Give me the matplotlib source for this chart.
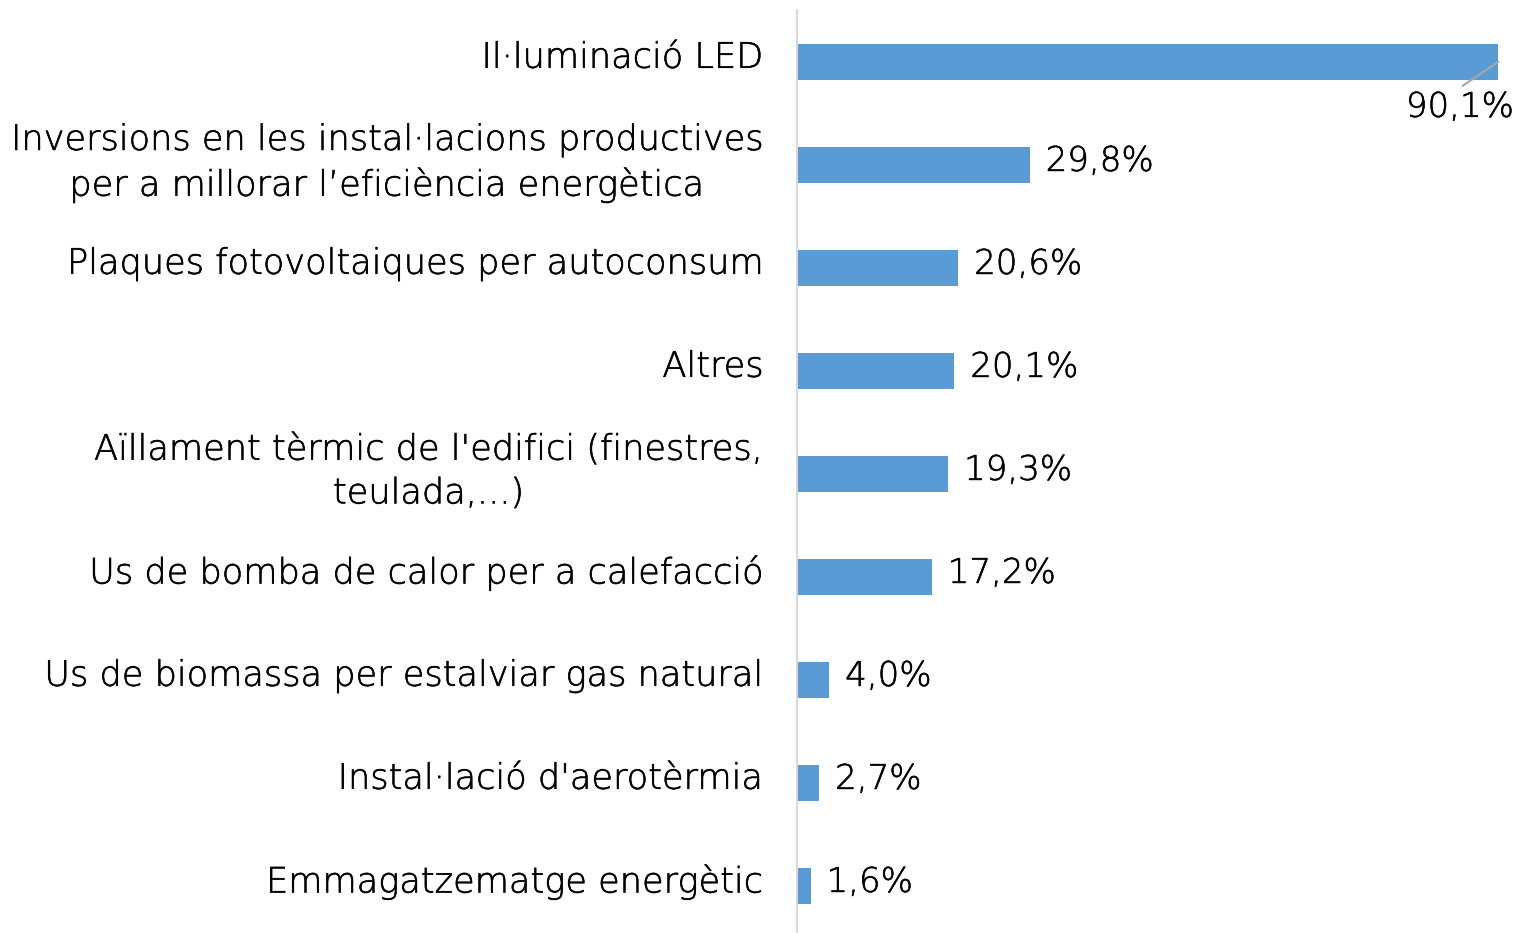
import matplotlib
matplotlib.use('Agg')
from matplotlib import pyplot as plt
from matplotlib import rcParams
from matplotlib import patheffects

rcParams['font.family'] = ['DejaVu Sans']
rcParams['font.weight'] = 'light'
rcParams['font.size'] = 24.5

categories = [
    'Il·luminació LED',
    'Inversions en les instal·lacions productives\nper a millorar l\u2019eficiència energètica',
    'Plaques fotovoltaiques per autoconsum',
    'Altres',
    "Aïllament tèrmic de l'edifici (finestres,\nteulada,...)",
    'Us de bomba de calor per a calefacció',
    'Us de biomassa per estalviar gas natural',
    "Instal·lació d'aerotèrmia",
    'Emmagatzematge energètic',
]
values = [90.1, 29.8, 20.6, 20.1, 19.3, 17.2, 4.0, 2.7, 1.6]
value_labels = ['90,1%', '29,8%', '20,6%', '20,1%', '19,3%', '17,2%', '4,0%', '2,7%', '1,6%']

fig = plt.figure(figsize=(15.17, 9.33), dpi=100)
ax = fig.add_axes([797 / 1517, 0, 1 - 797 / 1517, 923 / 933])

pos = list(range(len(categories)))
ax.barh(pos, values, height=0.355, color='#5B9BD5', left=0.15)
ax.set_xlim(0, 92.67)
ax.set_ylim(8.456, -0.505)

for s in ['top', 'right', 'bottom']:
    ax.spines[s].set_visible(False)
ax.spines['left'].set_color('#D9D9D9')
ax.spines['left'].set_linewidth(1.5)
ax.set_xticks([])

# labels sit a little above the bar centres, as in the original
tick_pos = [p - (0.105 if '\n' in c else 0.075) for p, c in zip(pos, categories)]
ax.set_yticks(tick_pos)
labels = ax.set_yticklabels(categories, multialignment='center', fontsize=25.3)
thick = [patheffects.withStroke(linewidth=0.4, foreground='black')]
for t in labels:
    t.set_linespacing(1.36)
    t.set_path_effects(thick)
ax.tick_params(axis='y', length=0, pad=24)

for i, (v, lab) in enumerate(zip(values, value_labels)):
    if i == 0:
        ax.plot([v + 0.15, v - 4.4], [i, i + 0.23], color='#A6A6A6', lw=1.5)
        t = ax.text(v - 4.8, i + 0.44, lab, ha='center', va='center')
    else:
        t = ax.text(v + 2.2, i - 0.035, lab, ha='left', va='center')
    t.set_path_effects(thick)

fig.savefig('out.png', dpi=100)
